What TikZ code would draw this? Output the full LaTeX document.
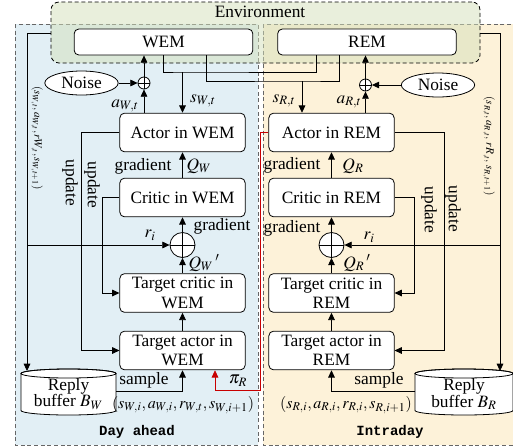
\documentclass[tikz,border=0pt]{standalone}
\usepackage{mathptmx}
\usepackage{fontspec}
\setmainfont{Liberation Serif}
\newfontfamily\panelfont{Liberation Mono}
\usetikzlibrary{arrows.meta,shapes.geometric}

\definecolor{dayfill}{RGB}{226,239,245}
\definecolor{intrafill}{RGB}{253,242,217}
\definecolor{envfill}{RGB}{212,224,186}
\definecolor{pired}{RGB}{200,0,0}

\tikzset{
  blk/.style={draw, rounded corners=3.5pt, fill=white, minimum width=94pt, minimum height=29pt, align=center, inner sep=1pt},
  envblk/.style={blk, minimum width=134pt, minimum height=19.5pt},
  envbox/.style={draw, densely dashed, rounded corners=6pt, fill=envfill, fill opacity=0.5, minimum width=321.75pt, minimum height=45.75pt},
  panel/.style={draw=black!60, densely dashed, line width=0.5pt},
  noisy/.style={ellipse, draw, fill=white, minimum width=55pt, minimum height=18pt, inner sep=0pt},
  plus/.style={circle, draw, fill=white, inner sep=0pt, minimum size=#1,
    path picture={\draw (path picture bounding box.north) -- (path picture bounding box.south)
      (path picture bounding box.west) -- (path picture bounding box.east);}},
  buffer/.style={minimum width=71.25pt, minimum height=34.5pt, align=center, inner sep=0pt,
    font=\fontsize{13}{12.5}\selectfont},
  drum/.style={draw, fill=white},
  lbl/.style={inner sep=1pt},
  tup/.style={inner sep=1pt, font=\fontsize{8.5}{10}\selectfont, rotate=-90},
  upd/.style={inner sep=1pt, rotate=-90},
  mono/.style={font=\panelfont\bfseries\fontsize{10.5}{12}\selectfont},
}

\begin{document}
\begin{tikzpicture}[x=0.75pt,y=0.75pt,yscale=-1, line width=0.6pt,
  font=\fontsize{13}{14.5}\selectfont, >={Triangle[length=5.5pt,width=5pt]}]
\useasboundingbox (0,0) rectangle (513,447);

% Panels
\draw[panel, fill=dayfill] (15,24) rectangle (258,445);
\draw[panel, fill=intrafill] (263,24) rectangle (516,445);
\node (dah) at (137,432) [mono] {Day ahead};
\node (itd) at (390,432) [mono] {Intraday};

% Environment
\node (env) at (265.5,32.5) [envbox] {};
\node (envt) at (260,12) {Environment};
\node (wem) at (163.5,42) [envblk] {WEM};
\node (rem) at (367,42) [envblk] {REM};

% Replay buffers (drums drawn under their text nodes)
\draw[drum] (21,373.5) -- (21,410.5) arc[start angle=180, end angle=0, x radius=47.5, y radius=4.5]
  -- (116,373.5) arc[start angle=0, end angle=-180, x radius=47.5, y radius=4.5] -- cycle;
\draw (68.5,373.5) ellipse [x radius=47.5, y radius=4.5];
\draw[drum] (415,373.5) -- (415,410.5) arc[start angle=180, end angle=0, x radius=49, y radius=4.5]
  -- (513,373.5) arc[start angle=0, end angle=-180, x radius=49, y radius=4.5] -- cycle;
\draw (464,373.5) ellipse [x radius=49, y radius=4.5];

% Day ahead agent
\node (actW) at (182.5,132.5) [blk] {Actor in WEM};
\node (crtW) at (182.5,197.5) [blk] {Critic in WEM};
\node (tcrW) at (182.5,293) [blk] {Target critic in\\WEM};
\node (tacW) at (182.5,350.5) [blk] {Target actor in\\WEM};
\node (sumW) at (182.5,245) [plus=18.75pt] {};
\node (addW) at (144,83) [plus=9pt] {};
\node (nzW) at (81.5,83) [noisy] {Noise};
\node (bufW) at (68.5,394) [buffer] {Reply\\buffer $B_W$};

% Intraday agent
\node (actR) at (331.5,132.5) [blk] {Actor in REM};
\node (crtR) at (331.5,197.5) [blk] {Critic in REM};
\node (tcrR) at (331.5,293) [blk] {Target critic in\\REM};
\node (tacR) at (331.5,350.5) [blk] {Target actor in\\REM};
\node (sumR) at (331.5,245) [plus=18.75pt] {};
\node (addR) at (365.5,85) [plus=9pt] {};
\node (nzR) at (438,85) [noisy] {Noise};
\node (bufR) at (464,394) [buffer] {Reply\\buffer $B_R$};

% Junctions
\coordinate (stW) at (182.5,72);
\coordinate (stR) at (302,81);
\coordinate (tapW) at (206,55);
\coordinate (tapR1) at (316,55);
\coordinate (tapR2) at (339,55);
\coordinate (outW) at (51,33);
\coordinate (corW) at (27,33);
\coordinate (outR) at (480,33);
\coordinate (corR) at (500,33);
\coordinate (rdA) at (260,390);
\coordinate (rdB) at (215,390);
\coordinate (smpW) at (116,391);
\coordinate (smpR) at (415,391);

% Environment links
\draw (wem.south) |- (stW) -| (tapR1);
\draw (tapW) |- (stR) -| (tapR2);
\draw[->] (stW) -- (actW.north);
\draw[->] (stR) -- (stR |- actR.north);
\draw[->] (addW |- actW.north) -- (addW);
\draw[->] (addW) -- (addW |- wem.south);
\draw[->] (nzW) -- (addW);
\draw[->] (addR |- actR.north) -- (addR);
\draw[->] (addR) -- (addR |- rem.south);
\draw[->] (nzR) -- (addR);
\node at (125,106) [lbl] {$a_{W,t}$};
\node at (203,101) [lbl] {$s_{W,t}$};
\node at (284,101) [lbl] {$s_{R,t}$};
\node at (349,102) [lbl] {$a_{R,t}$};

% Transitions to the buffers
\draw[->] (outW) -- (corW) -- (corW |- 0,371);
\draw[->] (outR) -- (corR) -- (corR |- 0,371);
\draw[->] (corW |- sumW) -- (sumW);
\draw[->] (corR |- sumR) -- (sumR);
\node at (37,138) [tup] {$(s_{W,t},a_{W,t},rW_{,t},s_{W,t+1})$};
\node at (489,146) [tup] {$(s_{R,t},a_{R,t},\,rR_{,t},\,s_{R,t+1})$};
\node at (150,235) [lbl] {$r_i$};
\node at (369,237) [lbl] {$r_i$};

% Critic and actor updates
\draw[->] (crtW) -- (actW);
\draw[->] (sumW) -- (crtW);
\draw[->] (tcrW) -- (sumW);
\draw[->] (tacW) -- (tcrW);
\draw[->] (crtR) -- (actR);
\draw[->] (sumR) -- (crtR);
\draw[->] (tcrR) -- (sumR);
\draw[->] (tacR) -- (tcrR);
\node at (143,166) [lbl] {gradient};
\node at (199,166) [lbl] {$Q_W$};
\node at (222,226) [lbl] {gradient};
\node at (204,263) [lbl] {$Q_W\,'$};
\node at (292,165) [lbl] {gradient};
\node at (353,166) [lbl] {$Q_R$};
\node at (292,228) [lbl] {gradient};
\node at (357,263) [lbl] {$Q_R\,'$};

% Soft updates of the target networks
\draw[->] (actW.west) -- ++(-38,0) |- (tacW.west);
\draw[->] (crtW.west) -- ++(-17,0) |- (tcrW.west);
\draw[->] (crtR.east) -- ++(20,0) |- (tcrR.east);
\draw[->] (actR.east) -- ++(50,0) |- (tacR.east);
\node at (70,183) [upd] {update};
\node at (92,185) [upd] {update};
\node at (429,210) [upd] {update};
\node at (453,209) [upd] {update};

% Sampling
\draw[->] (smpW) -| (tacW.south);
\draw[->] (smpR) -| (tacR.south);
\node at (144,380) [lbl] {sample};
\node at (379,380) [lbl] {sample};
\node at (183,405) [lbl, font=\fontsize{12}{14}\selectfont] {$(s_{W,i},a_{W,i},r_{W,t},s_{W,i+1})$};
\node at (346,405) [lbl, font=\fontsize{12}{14}\selectfont] {$(s_{R,i},a_{R,i},r_{R,i},s_{R,i+1})$};

% Intraday policy passed to day ahead
\draw[pired, ->] (actR.west) -| (rdA) -- (rdB) -- (rdB |- tacW.south);
\node at (238,381) [inner sep=0pt] {$\pi_R$};

\end{tikzpicture}
\end{document}
